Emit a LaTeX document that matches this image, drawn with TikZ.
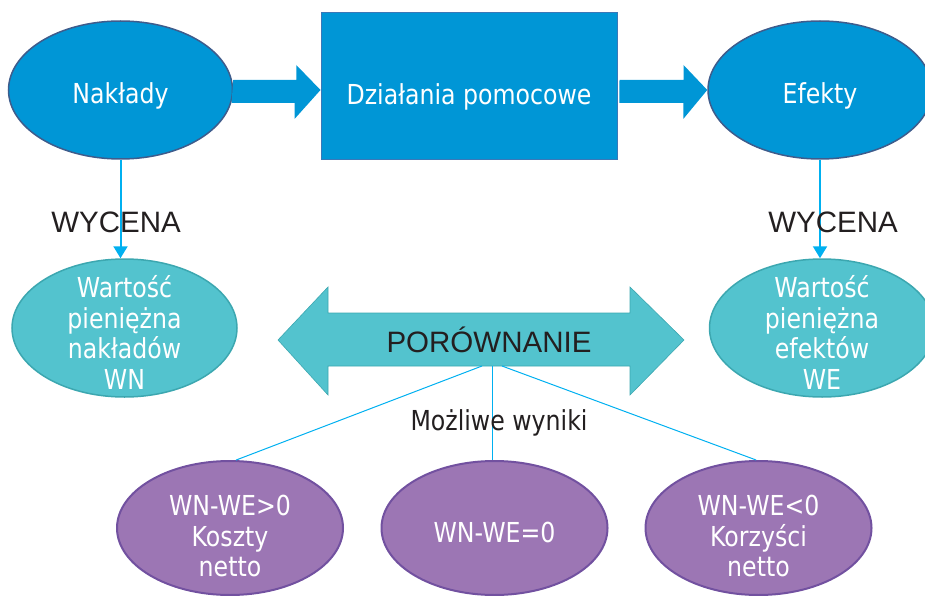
\documentclass[tikz,border=0pt]{standalone}
\usepackage{fontspec}
\setmainfont{DejaVu Sans}[FakeStretch=0.86]
\newfontfamily\capsfont{Liberation Sans}
\usetikzlibrary{shapes.geometric,arrows.meta}
\definecolor{boxblue}{HTML}{0096D6}
\definecolor{blueline}{HTML}{3E5C8C}
\definecolor{rectline}{HTML}{3A78B8}
\definecolor{tealfill}{HTML}{53C3CE}
\definecolor{tealline}{HTML}{3CA7B0}
\definecolor{violetfill}{HTML}{9C76B4}
\definecolor{violetline}{HTML}{7251A0}
\definecolor{linkcyan}{HTML}{00B0F0}
\definecolor{darktext}{HTML}{231F20}

\begin{document}
\begin{tikzpicture}[x=1pt,y=-1pt,
  txt/.style={font=\fontsize{27.5}{30.5}\selectfont, align=center},
  inbox/.style={txt, ellipse, draw=blueline, line width=1.5pt, fill=boxblue, text=white, minimum width=224pt, minimum height=138pt, inner xsep=0pt, inner ysep=-20pt, execute at begin node={\rule{0pt}{32pt}}},
  valnode/.style={txt, ellipse, draw=tealline, line width=1.5pt, fill=tealfill, text=white, minimum width=225pt, minimum height=138pt, inner xsep=0pt, inner ysep=-40pt, execute at begin node={\rule{0pt}{122pt}}},
  resnode/.style={txt, ellipse, draw=violetline, line width=2pt, fill=violetfill, text=white, minimum width=226pt, minimum height=134pt, inner xsep=0pt, inner ysep=-30pt, execute at begin node={\rule{0pt}{#1}}},
  resnode/.default=98pt,
  capstext/.style={text=darktext, font=\capsfont\fontsize{29.5}{33}\selectfont},
  flow/.style={fill=boxblue},
  link/.style={draw=linkcyan, line width=1pt}]
\useasboundingbox (0,0) rectangle (925,596);

\node[inbox] (nak) at (120.5,90) {Nakłady};
\node[rectangle, draw=rectline, line width=1pt, fill=boxblue, text=white, txt, minimum width=296pt, minimum height=147pt, inner sep=0pt, execute at begin node={\rule{0pt}{41pt}}] (dzi) at (469,86.5) {Działania pomocowe};
\node[inbox] (eff) at (820,90) {Efekty};
\node[valnode] (wn) at (124.5,328) {Wartość\\pieniężna\\nakładów\\WN};
\node[valnode] (we) at (822,328) {Wartość\\pieniężna\\efektów\\WE};
\node[resnode] (res1) at (230,528) {WN-WE>0\\Koszty\\netto};
\node[resnode=30pt] (res2) at (494.5,528) {WN-WE=0};
\node[resnode] (res3) at (758.5,528) {WN-WE<0\\Korzyści\\netto};

% block arrows
\path[flow] (nak.east) ++(0,-10) -- ++(63,0) -- ++(0,-15) -- (dzi.west |- nak.east) -- ++(-26,29) -- ++(0,-16) -- ++(-63,0) -- cycle;
\path[flow] (dzi.east |- eff.west) ++(2,-10) -- ++(64,0) -- ++(0,-15) -- (eff.west) -- ++(-24,29) -- ++(0,-16) -- ++(-64,0) -- cycle;

\path[draw=linkcyan, line width=2pt, -{Triangle[width=14pt,length=12pt]}] (nak.south) -- (nak.south |- wn.north);
\path[draw=linkcyan, line width=2pt, -{Triangle[width=14pt,length=12pt]}] (eff.south) -- (eff.south |- we.north);
\node[capstext] (wyc1) at (116,222) {WYCENA};
\node[capstext] (wyc2) at (833,222) {WYCENA};

% comparison
\path[fill=tealfill, draw=tealline, line width=0.6pt] (278,340) -- (328,287) -- (328,313) -- (630,313) -- (630,287) -- (684,340) -- (630,395) -- (630,366) -- (328,366) -- (328,395) -- cycle;
\node[capstext] (cmp) at (489,340) {PORÓWNANIE};
\coordinate (lk1) at (482,366);
\coordinate (lk2) at (492,366);
\coordinate (lk3) at (502,366);
\path[link] (lk1) -- (res1.85);
\path[link] (lk2) -- (lk2 |- res2.north);
\path[link] (lk3) -- (res3.92);
\node[txt, text=darktext] (poss) at (499,423) {Możliwe wyniki};
\end{tikzpicture}
\end{document}
